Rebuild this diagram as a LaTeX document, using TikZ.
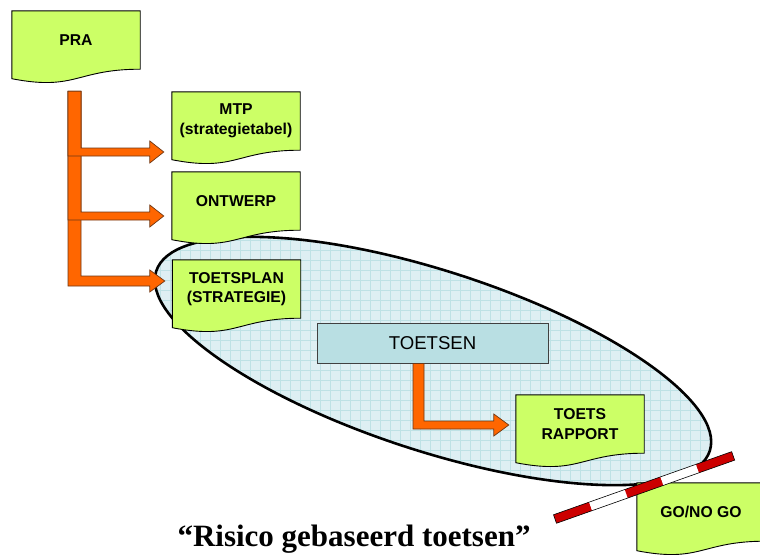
\documentclass[tikz,border=0pt]{standalone}
\usepackage{fontspec}
\setmainfont{Liberation Sans}
\newfontfamily\titlefont{Liberation Serif}
\usetikzlibrary{calc}
\definecolor{docgreen}{RGB}{204,255,102}
\definecolor{tsblue}{RGB}{185,223,227}
\definecolor{ellfill}{RGB}{222,239,243}
\definecolor{gridc}{RGB}{190,225,229}
\definecolor{arrorange}{RGB}{255,102,0}
\definecolor{arredge}{RGB}{110,55,20}
\definecolor{barred}{RGB}{204,0,0}
\pgfdeclarelayer{ell}
\pgfdeclarelayer{docs}
\pgfsetlayers{ell,docs,main}
% L-shaped block arrow: #1 start (top centre of bar), #2 tip, #3 bar width, #4 shaft width, #5 head length, #6 head half height
\newcommand\Larrow[6]{%
  \path[bigarrow] let \p1=(#1), \p2=(#2) in
    (\x1-#3/2,\y1) -- (\x1+#3/2,\y1) -- (\x1+#3/2,\y2+#4/2) -- (\x2-#5,\y2+#4/2)
    -- (\x2-#5,\y2+#6) -- (\x2,\y2) -- (\x2-#5,\y2-#6) -- (\x2-#5,\y2-#4/2)
    -- (\x1-#3/2,\y2-#4/2) -- cycle;}
\begin{document}
\begin{tikzpicture}[x=1pt,y=-1pt,
  docbox/.style={minimum width=128pt, minimum height=58pt, inner sep=0pt, align=center,
    font=\fontsize{15.7}{19.5}\selectfont\bfseries},
  docshape/.style={fill=docgreen, draw=black, line width=0.9pt, line join=miter},
  bigarrow/.style={fill=arrorange, draw=arredge, line width=0.7pt, line join=miter},
  testbox/.style={fill=tsblue, draw=black!75, line width=0.8pt, minimum width=231pt,
    minimum height=40pt, inner sep=0pt, font=\fontsize{18.6}{20}\selectfont},
]
\useasboundingbox (0,0) rectangle (760,554);
\clip (0,0) rectangle (760,554);

% risk ellipse with grid
\begin{pgfonlayer}{ell}
\begin{scope}
  \clip[shift={(433,361)},rotate=-18] (0,0) ellipse [x radius=291pt, y radius=90pt];
  \fill[ellfill] (130,190) rectangle (750,500);
  \draw[gridc, line width=0.6pt, step=10pt] (130,190) grid (750,500);
\end{scope}
\draw[line width=2.6pt, shift={(433,361)}, rotate=-18] (0,0) ellipse [x radius=291pt, y radius=90pt];
\end{pgfonlayer}

% document nodes
\node[docbox] (pra) at (76,40) {PRA};
\node[docbox] (mtp) at (236,121) {MTP\\(strategietabel)};
\node[docbox] (ontwerp) at (236,201) {ONTWERP};
\node[docbox] (plan) at (236.5,289) {TOETSPLAN\\(STRATEGIE)};
\node[docbox] (rapport) at (580,424) {TOETS\\RAPPORT};
\node[docbox] (gonogo) at (701,512) {GO/NO GO};
\node[testbox] (toetsen) at (432.5,343) {TOETSEN};

\begin{pgfonlayer}{docs}
\foreach \n in {pra,mtp,ontwerp,plan,rapport,gonogo}
  \path[docshape] (\n.north west) -- (\n.north east) -- (\n.south east)
    .. controls (\n.south) and ([yshift=-22pt]\n.south) .. ([yshift=-9.5pt]\n.south west) -- cycle;
\end{pgfonlayer}

% connector coordinates
\coordinate (s0) at ($(pra.south)+(-1.5,22)$);
\coordinate (t1) at ($(mtp.west)+(-8,31)$);
\coordinate (t2) at ($(ontwerp.west)+(-8,15)$);
\coordinate (t3) at ($(plan.west)+(-7.5,-8)$);
\coordinate (s4) at ($(toetsen.south)+(-14,0)$);
\coordinate (t4) at ($(rapport.west)+(-7,1)$);

\Larrow{s0}{t3}{13pt}{10pt}{15pt}{11pt}
\Larrow{s0}{t2}{13pt}{8pt}{14pt}{11pt}
\Larrow{s0}{t1}{13pt}{8pt}{14pt}{11pt}
\Larrow{s4}{t4}{11pt}{8pt}{15pt}{11pt}

% barrier
\begin{scope}[shift={(555,519)}, rotate=19.5]
  \foreach \i/\c in {0/barred,1/white,2/barred,3/white,4/barred}
    \fill[\c] ({\i*37.8},-4.5) rectangle ({(\i+1)*37.8},4.5);
  \draw[line width=0.6pt] (0,-4.5) rectangle (189,4.5);
\end{scope}

% title
\node[font=\titlefont\bfseries\fontsize{31}{36}\selectfont, anchor=base, inner sep=0pt] (title) at (354,546) {“Risico gebaseerd toetsen”};
\end{tikzpicture}
\end{document}
